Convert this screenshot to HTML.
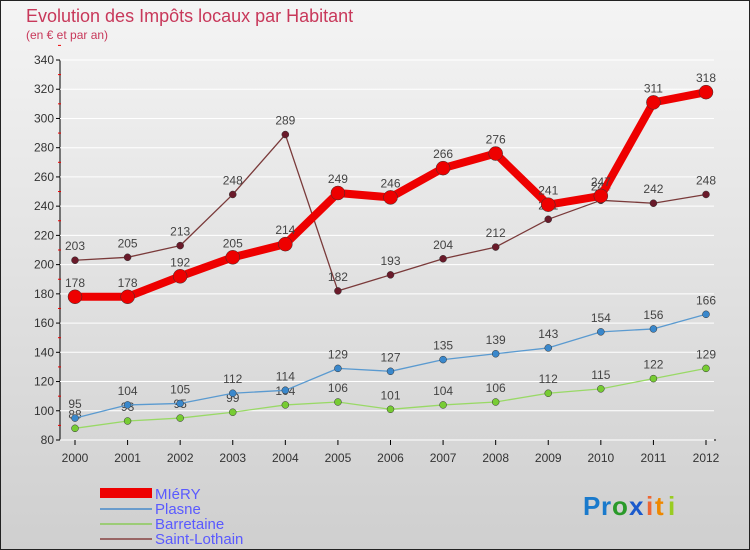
<!DOCTYPE html>
<html><head><meta charset="utf-8"><style>
body{margin:0;width:750px;height:550px;overflow:hidden}
svg{display:block;font-family:"Liberation Sans",sans-serif}
</style></head><body>
<svg id="c" width="750" height="550">
<defs><linearGradient id="bg" x1="0" y1="0" x2="0" y2="1"><stop offset="0" stop-color="#f4f4f4"/><stop offset="1" stop-color="#cfcfcf"/></linearGradient></defs>
<rect x="0.5" y="0.5" width="749" height="549" fill="url(#bg)" stroke="#222"/>
<text x="26" y="22" font-size="18" fill="#c8385a">Evolution des Impôts locaux par Habitant</text>
<text x="26" y="39" font-size="12" fill="#c8385a">(en € et par an)</text>
<g id="axes"></g><g id="series"></g>
<g>
<rect x="100" y="488" width="52" height="10" fill="#e00"/>
<text x="155" y="499" font-size="15" fill="#5a5aff">MIéRY</text>
<line x1="100" y1="509" x2="152" y2="509" stroke="#6a9ccc" stroke-width="2"/>
<text x="155" y="514" font-size="15" fill="#5a5aff">Plasne</text>
<line x1="100" y1="524" x2="152" y2="524" stroke="#9ccc77" stroke-width="2"/>
<text x="155" y="529" font-size="15" fill="#5a5aff">Barretaine</text>
<line x1="100" y1="539" x2="152" y2="539" stroke="#996666" stroke-width="2"/>
<text x="155" y="544" font-size="15" fill="#5a5aff">Saint-Lothain</text>
</g>
<g font-size="26" font-weight="bold">
<text x="583" y="515" fill="#1a7acc">P</text><text x="601" y="515" fill="#1a7acc">r</text><text x="612" y="515" fill="#2a9a2a">o</text><text x="629" y="515" fill="#1a5acc">x</text><text x="646" y="515" fill="#e63">i</text><text x="655" y="515" fill="#e80">t</text><text x="668" y="515" fill="#9c2">i</text>
</g>
</svg>
<script>
const years=["2000","2001","2002","2003","2004","2005","2006","2007","2008","2009","2010","2011","2012"];
const yTicks=[80,100,120,140,160,180,200,220,240,260,280,300,320,340];
const miery=[178,178,192,205,214,249,246,266,276,241,247,311,318];
const plasne=[95,104,105,112,114,129,127,135,139,143,154,156,166];
const barretaine=[88,93,95,99,104,106,101,104,106,112,115,122,129];
const saintLothain=[203,205,213,248,289,182,193,204,212,231,244,242,248];
const NS="http://www.w3.org/2000/svg";
const X=i=>75+i*(706-75)/12;
const Y=v=>440-(v-80)*380/260;
function mk(tag,attrs,parent){const e=document.createElementNS(NS,tag);for(const k in attrs)e.setAttribute(k,attrs[k]);parent.appendChild(e);return e;}
const ax=document.getElementById('axes');
let l=mk('line',{x1:60,y1:Y(340),x2:60,y2:Y(80),stroke:'#000'},ax);


l=mk('line',{x1:60,y1:Y(80),x2:X(12)+10,y2:Y(80),stroke:'#000'},ax);


yTicks.forEach(v=>{
 const g=mk('line',{x1:60,y1:Y(v),x2:X(12)+8,y2:Y(v),stroke:'#fff','stroke-width':1},ax);
 
 
 mk('line',{x1:56,y1:Y(v),x2:60,y2:Y(v),stroke:'#000'},ax);
 mk('line',{x1:58,y1:Y(v+10),x2:61,y2:Y(v+10),stroke:'#e00'},ax);
 const t=mk('text',{x:54,y:Y(v)+4,'text-anchor':'end','font-size':12,fill:'#333'},ax);
 t.textContent=v;
 
 
});
years.forEach((y,i)=>{
 mk('line',{x1:X(i),y1:Y(80),x2:X(i),y2:Y(80)+5,stroke:'#000'},ax);
 const t=mk('text',{x:X(i),y:Y(80)+22,'text-anchor':'middle','font-size':12,fill:'#333'},ax);
 t.textContent=y;
 
 
});
const sg=document.getElementById('series');
function series(data,name,color,dot,w,r){
 const g=mk('g',{},sg);
 
 
 const p=mk('polyline',{points:data.map((v,i)=>X(i)+','+Y(v)).join(' '),fill:'none',stroke:color,'stroke-width':w,'stroke-linejoin':'round'},g);
 
 
 data.forEach((v,i)=>{
  const c=mk('circle',{cx:X(i),cy:Y(v),r:r,fill:dot,stroke:'#333','stroke-width':0.5},g);
  
  
  const t=mk('text',{x:X(i),y:Y(v)-10,'text-anchor':'middle','font-size':12,fill:'#444'},g);
  t.textContent=v;
  
  
 });
}
series(saintLothain,'saint-lothain','#7a3a3a','#6a1a2a',1.3,3.5);
series(barretaine,'barretaine','#99d966','#77cc33',1.3,3.5);
series(plasne,'plasne','#5a9ad0','#3a88cc',1.3,3.5);
series(miery,'miery','#ee0000','#ee0000',8,7);
</script>
</body></html>
